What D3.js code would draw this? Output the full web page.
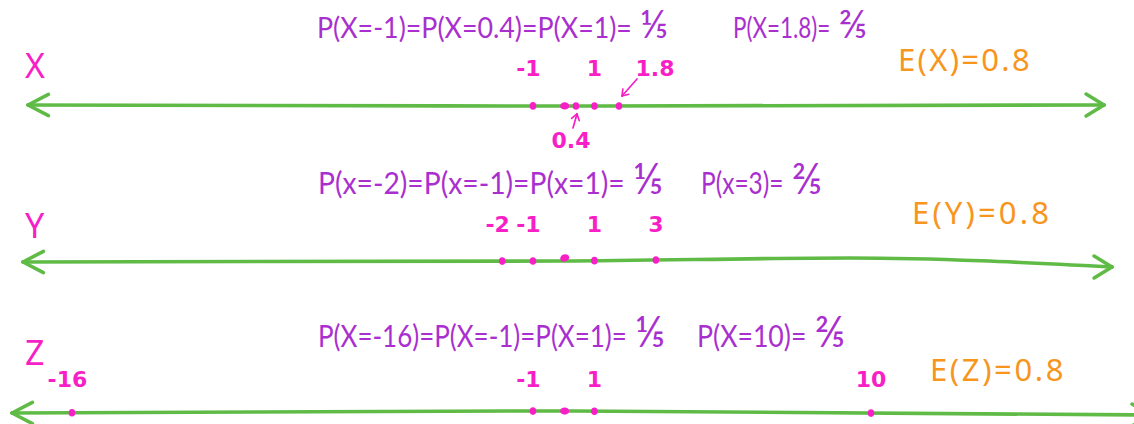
<!DOCTYPE html>
<html>
<head>
<meta charset="utf-8">
<script src="https://cdn.jsdelivr.net/npm/d3@7"></script>
<style>
  html, body { margin: 0; background: #ffffff; }
  svg { display: block; }
</style>
</head>
<body>
<svg id="chart" width="1134" height="424"></svg>
<script>
// Three discrete random variables that share the same expected value.
const rowNames = ["X", "Y", "Z"];
const xValues = [-1, 0.4, 1, 1.8];
const xFifths = [1, 1, 1, 2];          // probabilities, in fifths
const yValues = [-2, -1, 1, 3];
const yFifths = [1, 1, 1, 2];
const zValues = [-16, -1, 1, 10];
const zFifths = [1, 1, 1, 2];
const axisDomain = [-16, 10];
const origin = 0;
const fractionGlyph = { 1: "⅕", 2: "⅖" };

const colors = {
  axis: "#5fbb46",
  point: "#f81fc6",
  prob: "#a92fcf",
  mean: "#f7951d"
};

const svg = d3.select("#chart");

// one horizontal scale shared by all three number lines
const x = d3.scaleLinear().domain(axisDomain).range([72, 871]);

// per-row layout (drawing positions only)
const layout = {
  X: {
    values: xValues, fifths: xFifths, pVar: "X",
    lineX: [28, 600, 1104], lineY: [105, 106, 105],
    nameBase: 78, labelBase: 76,
    titleSize: 28, titleBase: 38,
    titleA: [317, 351], titleB: [733, 134],
    meanX: 898, meanW: 134, meanBase: 71
  },
  Y: {
    values: yValues, fifths: yFifths, pVar: "x",
    lineX: [23, 560, 850, 1112], lineY: [262, 261, 258, 267],
    nameBase: 238, labelBase: 232,
    titleSize: 30, titleBase: 194,
    titleA: [318, 345], titleB: [701, 121],
    meanX: 912, meanW: 140, meanBase: 224
  },
  Z: {
    values: zValues, fifths: zFifths, pVar: "X",
    lineX: [12, 560, 1150], lineY: [413, 411, 415],
    nameBase: 365, labelBase: 387,
    titleSize: 30, titleBase: 347,
    titleA: [318, 347], titleB: [697, 148],
    meanX: 930, meanW: 136, meanBase: 381
  }
};

const fmtMean = d3.format(".1f");
const labelSize = 22;

// hand-style open arrowhead
function chevron(g, tip, from, len, spread, width, color) {
  const ang = Math.atan2(from[1] - tip[1], from[0] - tip[0]);
  [spread, -spread].forEach(a => {
    g.append("line")
      .attr("x1", tip[0]).attr("y1", tip[1])
      .attr("x2", tip[0] + len * Math.cos(ang + a))
      .attr("y2", tip[1] + len * Math.sin(ang + a))
      .attr("stroke", color)
      .attr("stroke-width", width)
      .attr("stroke-linecap", "round");
  });
}

// measuring text widths
const measure = svg.append("text").attr("visibility", "hidden");
function textW(s, family, size, weight) {
  measure.attr("font-family", family).attr("font-size", size).attr("font-weight", weight || "normal").text(s);
  return measure.node().getComputedTextLength();
}
const labelW = s => textW(s, "DejaVu Sans", labelSize, "bold");

function callout(g, tip, from) {
  g.append("line").attr("x1", from[0]).attr("y1", from[1])
    .attr("x2", tip[0]).attr("y2", tip[1])
    .attr("stroke", colors.point).attr("stroke-width", 1.7).attr("stroke-linecap", "round");
  chevron(g, tip, from, 7, 0.6, 1.7, colors.point);
}

rowNames.forEach(name => {
  const L = layout[name];
  const g = svg.append("g").attr("class", "row-" + name);

  // number line with arrowheads on both ends
  const yAt = d3.scaleLinear().domain(L.lineX).range(L.lineY);
  const pts = L.lineX.map((px, i) => [px, L.lineY[i]]);
  g.append("path")
    .attr("d", d3.line().curve(d3.curveMonotoneX)(pts))
    .attr("fill", "none")
    .attr("stroke", colors.axis)
    .attr("stroke-width", 3.6)
    .attr("stroke-linecap", "round")
    .attr("stroke-linejoin", "round");
  const n = pts.length;
  chevron(g, pts[0], [pts[0][0] + 30, pts[0][1]], 23, 0.48, 3.6, colors.axis);
  chevron(g, pts[n - 1], [pts[n - 1][0] - 30, pts[n - 1][1]], 21, 0.55, 3.6, colors.axis);

  // variable name
  g.append("text")
    .attr("x", 25).attr("y", L.nameBase)
    .attr("font-family", "Noto Sans").attr("font-size", 34)
    .attr("fill", colors.point)
    .text(name);

  // origin mark
  const ox = x(origin) + 1, oy = yAt(x(origin)) - (name === "Y" ? 3 : 0);
  g.append("ellipse")
    .attr("cx", ox).attr("cy", oy)
    .attr("rx", 4.6).attr("ry", 3.6)
    .attr("transform", name === "Y" ? `rotate(-20 ${ox} ${oy})` : null)
    .attr("fill", colors.point);

  // outcome points
  g.selectAll("ellipse.pt").data(L.values).join("ellipse")
    .attr("class", "pt")
    .attr("cx", d => x(d)).attr("cy", d => yAt(x(d)))
    .attr("rx", 3.3).attr("ry", 3.8)
    .attr("fill", colors.point);

  // value labels: digits centred over the point, minus sign hanging left
  L.values.forEach(v => {
    const s = String(v);
    const px = x(v), py = yAt(px);
    let lx, ly = L.labelBase;
    if (name === "X" && v === 0.4) {
      // label below with a small arrow up to the point
      lx = px - 5 - labelW(s) / 2; ly = 148;
      callout(g, [px + 1, py + 8], [px - 3, py + 22]);
    } else if (name === "X" && v === 1.8) {
      // label set off to the right with an arrow down to the point
      lx = px + 36 - labelW(s) / 2;
      callout(g, [px + 3, py - 10], [px + 18, py - 27]);
    } else {
      const full = labelW(s);
      const digits = labelW(s.replace("-", ""));
      lx = px - (full - digits) - digits / 2;
    }
    g.append("text")
      .attr("x", lx).attr("y", ly)
      .attr("font-family", "DejaVu Sans").attr("font-weight", "bold")
      .attr("font-size", labelSize)
      .attr("fill", colors.point)
      .text(s);
  });

  // probability statements: equal-probability outcomes chained, then the rest
  const equal = L.values.filter((v, i) => L.fifths[i] === 1);
  const rest = L.values.filter((v, i) => L.fifths[i] !== 1);
  const restF = L.fifths.filter(f => f !== 1);
  const statements = [
    [equal.map(v => `P(${L.pVar}=${v})`).join("=") + "=", fractionGlyph[1], L.titleA],
    [rest.map(v => `P(${L.pVar}=${v})`).join("") + "=", fractionGlyph[restF[0]], L.titleB]
  ];
  const fracSize = L.titleSize * 1.4;
  statements.forEach(([txt, frac, box]) => {
    const fw = textW(frac, "Lato", fracSize);
    const target = box[1] - fw - 8;
    const natural = textW(txt, "Lato", L.titleSize);
    const sx = target / natural;
    g.append("text")
      .attr("transform", `translate(${box[0]},${L.titleBase}) scale(${sx.toFixed(3)},1)`)
      .attr("font-family", "Lato")
      .attr("font-size", L.titleSize)
      .attr("fill", colors.prob)
      .text(txt);
    g.append("text")
      .attr("x", box[0] + box[1] - fw).attr("y", L.titleBase)
      .attr("font-family", "Lato")
      .attr("font-size", fracSize)
      .attr("fill", colors.prob)
      .text(frac);
  });

  // expected value
  const mean = d3.sum(L.values, (v, i) => v * L.fifths[i] / 5);
  const meanText = `E(${name})=${fmtMean(mean)}`;
  const meanNatural = textW(meanText, "Noto Sans", 31);
  g.append("text")
    .attr("x", L.meanX).attr("y", L.meanBase)
    .attr("letter-spacing", ((L.meanW - meanNatural) / meanText.length).toFixed(2))
    .attr("font-family", "Noto Sans").attr("font-size", 31)
    .attr("fill", colors.mean)
    .text(meanText);
});

measure.remove();
</script>
</body>
</html>
